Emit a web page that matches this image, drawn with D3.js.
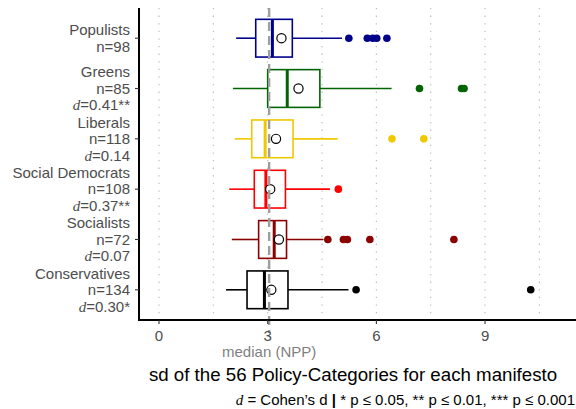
<!DOCTYPE html>
<html>
<head>
<meta charset="utf-8">
<script src="https://cdn.jsdelivr.net/npm/d3@7"></script>
<style>
  body { margin: 0; background: #fff; }
  text { font-family: "Liberation Sans", Arial, sans-serif; }
  .dd { font-family: "Liberation Serif", "DejaVu Serif", serif; font-style: italic; }
</style>
</head>
<body>
<div id="chart"></div>
<script>
// party groups, top to bottom
var parties = ['Populists', 'Greens', 'Liberals', 'Social Democrats', 'Socialists', 'Conservatives'];
var nCounts = [98, 85, 118, 108, 72, 134];
var dValues = [null, '0.41**', '0.14', '0.37**', '0.07', '0.30*'];
var colors = ['#00008B', '#006400', '#EEC900', '#FF0000', '#8B0000', '#000000'];

// box stats
var whiskLo = [2.13, 2.04, 2.09, 1.94, 2.01, 1.85];
var q1 = [2.67, 3.00, 2.56, 2.63, 2.75, 2.43];
var med = [3.13, 3.54, 2.93, 2.95, 3.18, 2.91];
var q3 = [3.68, 4.44, 3.70, 3.49, 3.52, 3.56];
var whiskHi = [5.05, 6.42, 4.93, 4.72, 4.54, 5.23];
var means = [3.38, 3.85, 3.23, 3.07, 3.31, 3.10];
var outliers = [
    [5.24, 5.75, 5.90, 6.01, 6.29],
    [7.19, 8.35, 8.42],
    [6.43, 7.31],
    [4.95],
    [4.66, 5.09, 5.20, 5.82, 8.14],
    [5.44, 10.26]
];
var medianNPP = 3.04;
var xTicks = [0, 3, 6, 9];
var gridVals = [0, 1.5, 3, 4.5, 6, 7.5, 9, 10.5];

var W = 576, H = 409;
var pLeft = 139, pRight = 576, pTop = 8, pBottom = 320;

var svg = d3.select('#chart').append('svg')
    .attr('width', W)
    .attr('height', H);

var x = d3.scaleLinear().domain([-0.552, 11.51]).range([pLeft, pRight]);
var y = d3.scalePoint().domain(parties).range([pTop, pBottom]).padding(0.6);
var bandH = (pBottom - pTop) / 6.2 * 0.75;

// dotted grid
svg.selectAll('line.grid')
    .data(gridVals)
    .enter()
    .append('line')
    .attr('class', 'grid')
    .attr('x1', function(d) { return x(d); })
    .attr('x2', function(d) { return x(d); })
    .attr('y1', pTop)
    .attr('y2', pBottom)
    .style('stroke', '#bdbdbd')
    .style('stroke-width', 1.2)
    .style('stroke-dasharray', '1.3,6.3');

var idx = d3.range(parties.length);

var groups = svg.selectAll('g.box')
    .data(idx)
    .enter()
    .append('g')
    .attr('class', 'box');

// whiskers
groups.append('line')
    .attr('x1', function(i) { return x(whiskLo[i]); })
    .attr('x2', function(i) { return x(q1[i]); })
    .attr('y1', function(i) { return y(parties[i]); })
    .attr('y2', function(i) { return y(parties[i]); })
    .style('stroke', function(i) { return colors[i]; })
    .style('stroke-width', 1.6);
groups.append('line')
    .attr('x1', function(i) { return x(q3[i]); })
    .attr('x2', function(i) { return x(whiskHi[i]); })
    .attr('y1', function(i) { return y(parties[i]); })
    .attr('y2', function(i) { return y(parties[i]); })
    .style('stroke', function(i) { return colors[i]; })
    .style('stroke-width', 1.6);

// boxes
groups.append('rect')
    .attr('x', function(i) { return x(q1[i]); })
    .attr('width', function(i) { return x(q3[i]) - x(q1[i]); })
    .attr('y', function(i) { return y(parties[i]) - bandH / 2; })
    .attr('height', bandH)
    .style('fill', '#fff')
    .style('stroke', function(i) { return colors[i]; })
    .style('stroke-width', 1.6);

// medians
groups.append('line')
    .attr('x1', function(i) { return x(med[i]); })
    .attr('x2', function(i) { return x(med[i]); })
    .attr('y1', function(i) { return y(parties[i]) - bandH / 2; })
    .attr('y2', function(i) { return y(parties[i]) + bandH / 2; })
    .style('stroke', function(i) { return colors[i]; })
    .style('stroke-width', 3);

// outliers
groups.each(function(i) {
    d3.select(this).selectAll('circle.out')
        .data(outliers[i])
        .enter()
        .append('circle')
        .attr('class', 'out')
        .attr('cx', function(d) { return x(d); })
        .attr('cy', y(parties[i]))
        .attr('r', 3.8)
        .style('fill', colors[i]);
});

// means
groups.append('circle')
    .attr('cx', function(i) { return x(means[i]); })
    .attr('cy', function(i) { return y(parties[i]); })
    .attr('r', 4.6)
    .style('fill', '#fff')
    .style('stroke', '#000')
    .style('stroke-width', 1.2);

// median of NPP
svg.append('line')
    .attr('x1', x(medianNPP))
    .attr('x2', x(medianNPP))
    .attr('y1', pTop)
    .attr('y2', pBottom + 13)
    .style('stroke', '#9e9e9e')
    .style('stroke-width', 2.4)
    .style('stroke-dasharray', '9,5');

// axes lines
svg.append('line')
    .attr('x1', pLeft).attr('x2', pLeft)
    .attr('y1', pTop).attr('y2', pBottom + 1)
    .style('stroke', '#000').style('stroke-width', 2);
svg.append('line')
    .attr('x1', pLeft - 1).attr('x2', pRight)
    .attr('y1', pBottom).attr('y2', pBottom)
    .style('stroke', '#000').style('stroke-width', 2);

// x ticks
var xt = svg.selectAll('g.xt')
    .data(xTicks)
    .enter()
    .append('g')
    .attr('class', 'xt');
xt.append('line')
    .attr('x1', function(d) { return x(d); })
    .attr('x2', function(d) { return x(d); })
    .attr('y1', pBottom)
    .attr('y2', pBottom + 4)
    .style('stroke', '#333').style('stroke-width', 1.1);
xt.append('text')
    .attr('x', function(d) { return x(d); })
    .attr('y', pBottom + 21)
    .attr('text-anchor', 'middle')
    .style('font-size', '15px')
    .style('fill', '#4d4d4d')
    .text(function(d) { return d; });

svg.append('text')
    .attr('x', x(medianNPP))
    .attr('y', 357)
    .attr('text-anchor', 'middle')
    .style('font-size', '15px')
    .style('fill', '#7f7f7f')
    .text('median (NPP)');

// y ticks + labels
var yt = svg.selectAll('g.yt')
    .data(idx)
    .enter()
    .append('g')
    .attr('class', 'yt');
yt.append('line')
    .attr('x1', pLeft - 4)
    .attr('x2', pLeft)
    .attr('y1', function(i) { return y(parties[i]); })
    .attr('y2', function(i) { return y(parties[i]); })
    .style('stroke', '#333').style('stroke-width', 1.1);

var lh = 16.5;
yt.each(function(i) {
    var lines = dValues[i] === null ? 2 : 3;
    var cy = y(parties[i]);
    var firstBase = cy - (lines - 1) * lh / 2 + 5.3;
    var t = d3.select(this).append('text')
        .attr('text-anchor', 'end')
        .style('font-size', '15px')
        .style('fill', '#4d4d4d');
    t.append('tspan').attr('x', pLeft - 9).attr('y', firstBase).text(parties[i]);
    t.append('tspan').attr('x', pLeft - 9).attr('y', firstBase + lh).text('n=' + nCounts[i]);
    if (dValues[i] !== null) {
        var t3 = t.append('tspan').attr('x', pLeft - 9).attr('y', firstBase + 2 * lh);
        t3.append('tspan').attr('class', 'dd').text('d');
        t3.append('tspan').text('=' + dValues[i]);
    }
});

// axis title
svg.append('text')
    .attr('x', 353)
    .attr('y', 381)
    .attr('text-anchor', 'middle')
    .style('font-size', '18.7px')
    .style('fill', '#000')
    .text('sd of the 56 Policy-Categories for each manifesto');

// caption
var cap = svg.append('text')
    .attr('x', 575)
    .attr('y', 405)
    .attr('text-anchor', 'end')
    .style('font-size', '15px')
    .style('fill', '#000');
cap.append('tspan').attr('class', 'dd').text('d');
cap.append('tspan').text(' = Cohen\u2019s d ');
cap.append('tspan').style('font-weight', 'bold').text('|');
cap.append('tspan').text(' * p \u2264 0.05, ** p \u2264 0.01, *** p \u2264 0.001');
</script>
</body>
</html>
